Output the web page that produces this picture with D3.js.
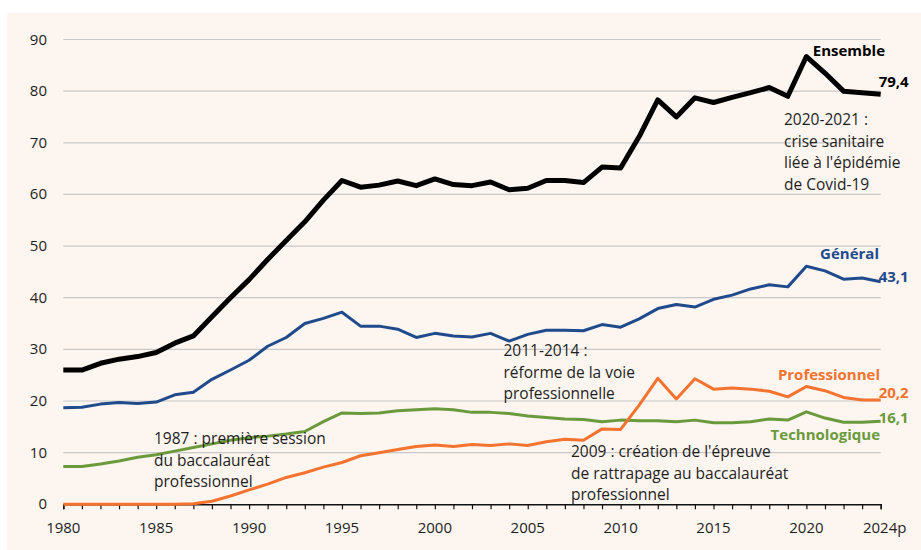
<!DOCTYPE html>
<html>
<head>
<meta charset="utf-8">
<script src="https://cdn.jsdelivr.net/npm/d3@7"></script>
<style>
  body { margin: 0; background: #fff; }
  svg { display: block; font-family: "Open Sans", sans-serif; }
</style>
</head>
<body>
<div id="chart"></div>
<script>
// taux d'accès au baccalauréat par voie (en %), 1980 - 2024p
var years = d3.range(1980, 2025);
var xTicks = [1980, 1985, 1990, 1995, 2000, 2005, 2010, 2015, 2020, 2024];
var xTickLabels = ["1980", "1985", "1990", "1995", "2000", "2005", "2010", "2015", "2020", "2024p"];
var yTicks = [0, 10, 20, 30, 40, 50, 60, 70, 80, 90];

var ensemble = [26.0, 26.0, 27.3, 28.1, 28.6, 29.4, 31.2, 32.6, 36.3, 40.0,
                43.5, 47.4, 51.1, 54.7, 58.9, 62.7, 61.4, 61.8, 62.6, 61.7,
                63.0, 61.9, 61.7, 62.4, 60.9, 61.2, 62.7, 62.7, 62.3, 65.3,
                65.1, 71.2, 78.3, 75.0, 78.7, 77.8, 78.8, 79.7, 80.7, 79.0,
                86.7, 83.5, 80.0, 79.7, 79.4];
var general = [18.7, 18.8, 19.4, 19.7, 19.5, 19.8, 21.2, 21.7, 24.2, 26.0,
               27.9, 30.6, 32.3, 35.0, 36.0, 37.2, 34.5, 34.5, 33.9, 32.3,
               33.1, 32.6, 32.4, 33.1, 31.6, 32.9, 33.7, 33.7, 33.6, 34.8,
               34.3, 35.9, 37.9, 38.7, 38.2, 39.7, 40.5, 41.7, 42.5, 42.1,
               46.1, 45.2, 43.6, 43.8, 43.1];
var techno = [7.3, 7.3, 7.8, 8.4, 9.1, 9.6, 10.3, 11.0, 11.7, 12.4,
              12.9, 13.2, 13.6, 14.1, 16.0, 17.7, 17.6, 17.7, 18.1, 18.3,
              18.5, 18.3, 17.8, 17.8, 17.6, 17.1, 16.8, 16.5, 16.4, 16.0,
              16.3, 16.2, 16.2, 16.0, 16.3, 15.8, 15.8, 16.0, 16.5, 16.3,
              17.9, 16.7, 15.9, 15.9, 16.1];
var pro = [0, 0, 0, 0, 0, 0, 0, 0.1, 0.6, 1.6,
           2.8, 3.9, 5.2, 6.1, 7.2, 8.1, 9.4, 10.0, 10.6, 11.2,
           11.5, 11.2, 11.6, 11.4, 11.7, 11.4, 12.1, 12.6, 12.4, 14.6,
           14.5, 19.2, 24.4, 20.4, 24.3, 22.3, 22.5, 22.3, 21.9, 20.8,
           22.8, 22.0, 20.7, 20.2, 20.2];

var endLabels = ["79,4", "43,1", "20,2", "16,1"];
var seriesNames = ["Ensemble", "Général", "Professionnel", "Technologique"];

var w = 921,
    h = 550;

var svg = d3.select("#chart").append("svg")
    .attr("width", w)
    .attr("height", h);

//cream panel
svg.append("rect")
    .attr("x", 7)
    .attr("y", 13)
    .attr("width", w - 7)
    .attr("height", h - 13)
    .attr("fill", "#fdf5ef");

var x = d3.scaleLinear().domain([1980, 2024]).range([63.3, 880.7]);
var y = d3.scaleLinear().domain([0, 90]).range([504.3, 39.5]);

//horizontal grid
svg.append("g")
    .selectAll("line")
    .data(yTicks.filter(function(d) { return d > 0; }))
    .join("line")
    .attr("x1", x(1980))
    .attr("x2", x(2024))
    .attr("y1", function(d) { return y(d); })
    .attr("y2", function(d) { return y(d); })
    .attr("stroke", "#c9c9c9")
    .attr("stroke-width", 1.2);

//y labels
svg.append("g")
    .selectAll("text")
    .data(yTicks)
    .join("text")
    .attr("x", 47)
    .attr("y", function(d) { return y(d) + 5; })
    .attr("text-anchor", "end")
    .attr("font-size", 15)
    .attr("fill", "#1e1e1e")
    .text(function(d) { return d; });

//x axis with a tick per year
var xAxis = d3.axisBottom(x)
    .tickValues(years)
    .tickSize(5)
    .tickFormat("");
var gx = svg.append("g")
    .attr("transform", "translate(0," + y(0) + ")")
    .call(xAxis);
gx.select(".domain").attr("stroke", "#111").attr("stroke-width", 1.5);
gx.selectAll(".tick line").attr("stroke", "#111").attr("stroke-width", 1.2);

svg.append("g")
    .selectAll("text")
    .data(xTicks)
    .join("text")
    .attr("x", function(d, i) { return x(d) + (i === xTicks.length - 1 ? 4 : 0); })
    .attr("y", 533)
    .attr("text-anchor", "middle")
    .attr("font-size", 15)
    .attr("fill", "#1e1e1e")
    .text(function(d, i) { return xTickLabels[i]; });

//lines
var line = d3.line()
    .x(function(d, i) { return x(years[i]); })
    .y(function(d) { return y(d); });

var series = [
    { values: techno, color: "#6a9a3b", width: 3 },
    { values: pro, color: "#f3732f", width: 3 },
    { values: general, color: "#1f4a8c", width: 3 },
    { values: ensemble, color: "#000000", width: 5 }
];

svg.append("g")
    .selectAll("path")
    .data(series)
    .join("path")
    .attr("d", function(d) { return line(d.values); })
    .attr("fill", "none")
    .attr("stroke", function(d) { return d.color; })
    .attr("stroke-width", function(d) { return d.width; })
    .attr("stroke-linejoin", "round");

//series names and end values
var labelDefs = [
    { name: seriesNames[0], val: endLabels[0], color: "#000000", last: ensemble[44], nameX: 885, nameY: 56, dy: -7 },
    { name: seriesNames[1], val: endLabels[1], color: "#1f4a8c", last: general[44], nameX: 879, nameY: 259, dy: 0 },
    { name: seriesNames[2], val: endLabels[2], color: "#f3732f", last: pro[44], nameX: 880, nameY: 380, dy: -2 },
    { name: seriesNames[3], val: endLabels[3], color: "#6a9a3b", last: techno[44], nameX: 880, nameY: 440, dy: 2 }
];

svg.append("g")
    .selectAll("text")
    .data(labelDefs)
    .join("text")
    .attr("x", function(d) { return d.nameX; })
    .attr("y", function(d) { return d.nameY; })
    .attr("text-anchor", "end")
    .attr("font-size", 15)
    .attr("font-weight", "bold")
    .attr("fill", function(d) { return d.color; })
    .text(function(d) { return d.name; });

svg.append("g")
    .selectAll("text")
    .data(labelDefs)
    .join("text")
    .attr("x", x(2024) - 2)
    .attr("y", function(d) { return y(d.last) + d.dy; })
    .attr("font-size", 15)
    .attr("font-weight", "bold")
    .attr("fill", function(d) { return d.color; })
    .text(function(d) { return d.val; });

//annotations
var notes = [
    { x: 784, y: 125, lines: ["2020-2021 :", "crise sanitaire", "liée à l'épidémie", "de Covid-19"] },
    { x: 503.5, y: 356, lines: ["2011-2014 :", "réforme de la voie", "professionnelle"] },
    { x: 571, y: 457, lines: ["2009 : création de l'épreuve", "de rattrapage au baccalauréat", "professionnel"] },
    { x: 154, y: 444, lines: ["1987 : première session", "du baccalauréat", "professionnel"] }
];

notes.forEach(function(n) {
    var t = svg.append("text")
        .attr("x", n.x)
        .attr("y", n.y)
        .attr("font-size", 15.5)
        .attr("fill", "#1e1e1e");
    n.lines.forEach(function(l, i) {
        t.append("tspan")
            .attr("x", n.x)
            .attr("dy", i === 0 ? 0 : 21.5)
            .text(l);
    });
});
</script>
</body>
</html>
